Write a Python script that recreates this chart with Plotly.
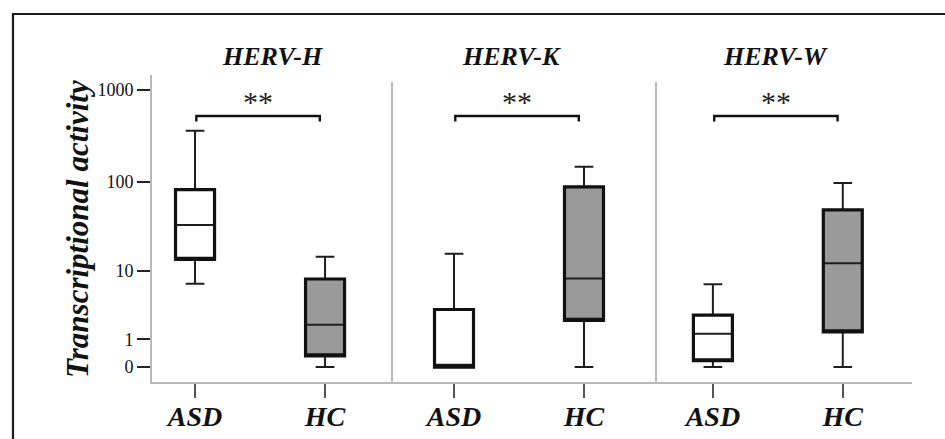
import numpy as np
import plotly.graph_objects as go

W, H = 945, 439

genes = ["HERV-H", "HERV-K", "HERV-W"]
groups = ["ASD", "HC"]

# Five-number summaries (per gene)
asd_min = [7.0, 0.0, 0.0]
asd_q1 = [13.7, 0.0, 0.17]
asd_med = [33.7, 0.06, 1.30]
asd_q3 = [82.7, 3.2, 2.66]
asd_max = [362.0, 15.9, 6.9]

hc_min = [0.0, 0.0, 0.0]
hc_q1 = [0.32, 2.2, 1.40]
hc_med = [1.88, 8.1, 12.3]
hc_q3 = [8.0, 88.5, 49.4]
hc_max = [14.7, 147.0, 98.0]

sig_labels = ["**", "**", "**"]

tick_values = [0, 1, 10, 100, 1000]
tick_labels = ["0", "1", "10", "100", "1000"]

fill_colors = {"ASD": "#ffffff", "HC": "#9a9a9a"}


def tr(v):
    return np.log10(np.asarray(v, dtype=float) + 1.0)


def px_x(p):
    return p / W


def px_y(p):
    return 1 - p / H


FONT = "Liberation Serif"

# panel geometry (pixels)
panel_dom = [(152, 392), (392, 656), (656, 912)]
panel_rng = [(-0.331, 1.515), (-0.477, 1.554), (-0.438, 1.533)]
plot_top, plot_bot = 75, 381.7

fig = go.Figure()

stats = {
    "ASD": (asd_min, asd_q1, asd_med, asd_q3, asd_max),
    "HC": (hc_min, hc_q1, hc_med, hc_q3, hc_max),
}

for i, g in enumerate(genes):
    xa = "x" if i == 0 else f"x{i+1}"
    for grp in groups:
        mn, q1, md, q3, mx = (s[i] for s in stats[grp])
        # thin layer: whiskers + median + fill
        fig.add_trace(go.Box(
            x=[grp], q1=[tr(q1)], median=[tr(md)], q3=[tr(q3)],
            lowerfence=[tr(mn)], upperfence=[tr(mx)],
            width=0.3, whiskerwidth=0.48,
            fillcolor=fill_colors[grp],
            line=dict(color="#1e1e1e", width=2.0),
            xaxis=xa, yaxis="y", showlegend=False, hoverinfo="skip",
            boxpoints=False,
        ))
        # thick outline of the box
        fig.add_trace(go.Box(
            x=[grp], q1=[tr(q1)], median=[tr(q1)], q3=[tr(q3)],
            lowerfence=[tr(q1)], upperfence=[tr(q3)],
            width=0.3, whiskerwidth=0,
            fillcolor="rgba(0,0,0,0)",
            line=dict(color="#111111", width=3.2),
            xaxis=xa, yaxis="y", showlegend=False, hoverinfo="skip",
            boxpoints=False,
        ))

layout = dict(
    width=W, height=H,
    margin=dict(l=0, r=0, t=0, b=0),
    paper_bgcolor="white", plot_bgcolor="rgba(0,0,0,0)",
    boxmode="overlay",
    showlegend=False,
    font=dict(family=FONT, color="#111111"),
)

for i in range(3):
    key = "xaxis" if i == 0 else f"xaxis{i+1}"
    d0, d1 = panel_dom[i]
    layout[key] = dict(
        domain=[px_x(d0), px_x(d1)],
        anchor="y",
        type="category",
        categoryorder="array", categoryarray=groups,
        range=list(panel_rng[i]),
        showline=True, linecolor="#b8b8b8", linewidth=2,
        ticks="outside", ticklen=14, tickwidth=1.6, tickcolor="#555555",
        tickmode="array", tickvals=groups,
        ticktext=[f"<b><i>{g}</i></b>" for g in groups],
        tickfont=dict(family=FONT, size=28, color="#111111"),
        ticklabelstandoff=-5,
        showgrid=False, zeroline=False, fixedrange=True,
    )

layout["yaxis"] = dict(
    domain=[px_y(plot_bot), px_y(plot_top)],
    anchor="x",
    range=[-0.159, 3.165],
    tickmode="array", tickvals=list(tr(tick_values)), ticktext=tick_labels,
    ticks="outside", ticklen=13, tickwidth=1.6, tickcolor="#222222",
    tickfont=dict(family=FONT, size=18, color="#111111"),
    showline=True, linecolor="#b8b8b8", linewidth=2,
    showgrid=False, zeroline=False, fixedrange=True,
)

fig.update_layout(**layout)

shapes = []
# outer frame (top + left visible)
shapes.append(dict(type="rect", xref="paper", yref="paper",
                   x0=px_x(13), x1=1.02, y0=-0.02, y1=px_y(14),
                   line=dict(color="#1a1a1a", width=2.2), fillcolor="rgba(0,0,0,0)"))
# panel separators
for xs in (392, 656):
    shapes.append(dict(type="line", xref="paper", yref="paper",
                       x0=px_x(xs), x1=px_x(xs), y0=px_y(plot_bot), y1=px_y(82),
                       line=dict(color="#b8b8b8", width=2)))

annotations = []
title_cx = [272.7, 511.7, 775]
for i, g in enumerate(genes):
    annotations.append(dict(
        text=f"<b><i>{g}</i></b>", xref="paper", yref="paper",
        x=px_x(title_cx[i]), y=px_y(57), xanchor="center", yanchor="middle",
        showarrow=False, font=dict(family=FONT, size=26, color="#111111")))
    xr = "x" if i == 0 else f"x{i+1}"
    # significance bracket between ASD (0) and HC (1)
    shapes.append(dict(
        type="path", xref=xr, yref="paper",
        path=f"M 0.01,{px_y(121.5)} L 0.01,{px_y(116)} L 0.96,{px_y(116)} L 0.96,{px_y(121.5)}",
        line=dict(color="#111111", width=2.4)))
    annotations.append(dict(
        text=sig_labels[i], xref=xr, yref="paper",
        x=0.485, y=px_y(101), xanchor="center", yanchor="middle",
        showarrow=False, font=dict(family=FONT, size=30, color="#222222")))

annotations.append(dict(
    text="<b><i>Transcriptional activity</i></b>", xref="paper", yref="paper",
    x=px_x(77), y=px_y(229), xanchor="center", yanchor="middle", textangle=-90,
    showarrow=False, font=dict(family=FONT, size=31, color="#111111")))

fig.update_layout(shapes=shapes, annotations=annotations)

fig.write_html(
    "out.html",
    config={"displayModeBar": False, "staticPlot": True},
    post_script="document.body.style.margin='0';document.body.style.padding='0';"
                "document.body.style.overflow='hidden';",
)
